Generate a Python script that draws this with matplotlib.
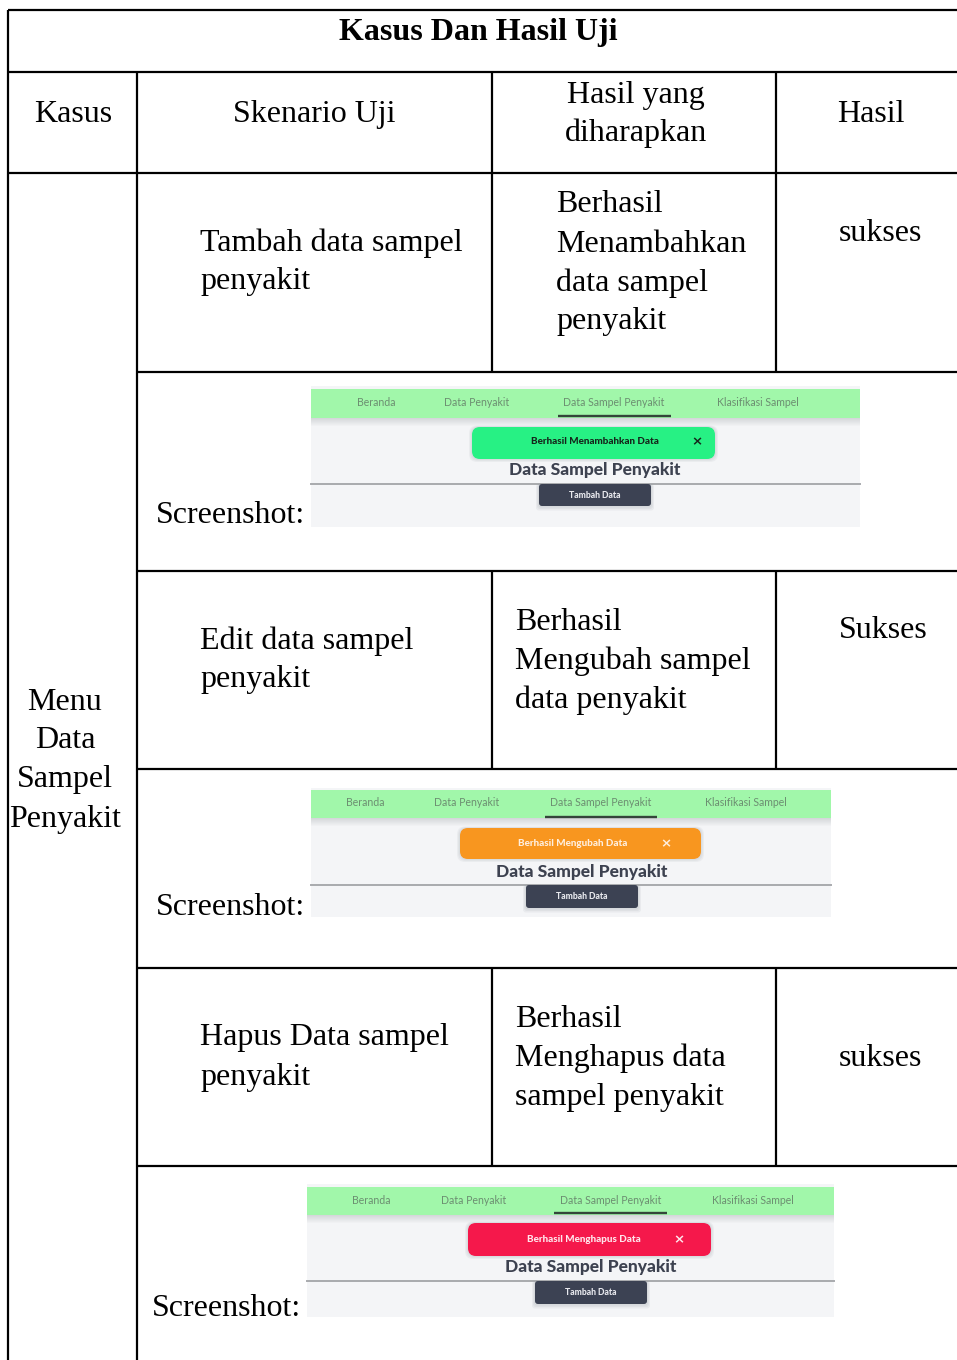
import matplotlib
matplotlib.use("Agg")
import matplotlib.pyplot as plt
from matplotlib.patches import Rectangle, FancyBboxPatch

# ---------------- content ----------------
title = "Kasus Dan Hasil Uji"
headers = ["Kasus", "Skenario Uji", "Hasil yang\ndiharapkan", "Hasil"]
case_label = "Menu\nData\nSampel\nPenyakit"
scenarios = ["Tambah data sampel\npenyakit",
             "Edit data sampel\npenyakit",
             "Hapus Data sampel\npenyakit"]
expected = ["Berhasil\nMenambahkan\ndata sampel\npenyakit",
            "Berhasil\nMengubah sampel\ndata penyakit",
            "Berhasil\nMenghapus data\nsampel penyakit"]
results = ["sukses", "Sukses", "sukses"]
screenshot_label = "Screenshot:"
nav_items = ["Beranda", "Data Penyakit", "Data Sampel Penyakit", "Klasifikasi Sampel"]
page_title = "Data Sampel Penyakit"
button_label = "Tambah Data"
toast_messages = ["Berhasil Menambahkan Data", "Berhasil Mengubah Data", "Berhasil Menghapus Data"]
toast_colors = ["#27f184", "#f8961f", "#f5184b"]
toast_text_colors = ["#15261b", "#ffeedd", "#ffe6ec"]

# ---------------- layout (pixels) ----------------
W, H = 957, 1360
XL, XC1, XC2, XC3, XR = 8, 137, 492, 776, 957
Y_TOP, Y_TITLE, Y_HEAD = 10, 72, 173
ROW_BOUNDS = [173, 372, 571, 769, 968, 1166, 1360]
LINE_H = 39
SERIF = "Liberation Serif"
FS = 23.0
BASE_OFF = 10   # baseline below visual centre

fig = plt.figure(figsize=(W / 100, H / 100), dpi=100)
ax = fig.add_axes([0, 0, 1, 1])
ax.set_xlim(0, W)
ax.set_ylim(H, 0)
ax.axis("off")

LW = 1.6
def hline(y, x0, x1):
    ax.plot([x0, x1], [y, y], color="black", lw=LW, solid_capstyle="butt")
def vline(x, y0, y1):
    ax.plot([x, x], [y0, y1], color="black", lw=LW, solid_capstyle="butt")

# grid
hline(Y_TOP, XL, XR)
hline(Y_TITLE, XL, XR)
hline(Y_HEAD, XL, XR)
for y in ROW_BOUNDS[1:-1]:
    hline(y, XC1, XR)
vline(XL, Y_TOP, H)
vline(XC1, Y_TITLE, H)
for x in (XC2, XC3):
    vline(x, Y_TITLE, Y_HEAD)
    for i in (0, 2, 4):
        vline(x, ROW_BOUNDS[i], ROW_BOUNDS[i + 1])

def block(text, x, yc, ha="left", bold=False, fs=FS):
    lines = text.split("\n")
    n = len(lines)
    for i, ln in enumerate(lines):
        y = yc + (i - (n - 1) / 2) * LINE_H + BASE_OFF
        ax.text(x, y, ln, ha=ha, va="baseline", fontsize=fs, family=SERIF,
                fontweight="bold" if bold else "normal", color="black")

# title and headers
block(title, 478, 30, ha="center", bold=True, fs=23.0)
header_x = [73, 314, 636, 871]
for hx, ht in zip(header_x, headers):
    block(ht, hx, 112, ha="center")
block(case_label, 65, 758, ha="center")

# data rows
scen_yc = [260, 658, 1055]
exp_x = [556, 515, 515]
exp_yc = [261, 659, 1056]
res_yc = [231, 628, 1056]
for i in range(3):
    block(scenarios[i], 200, scen_yc[i])
    block(expected[i], exp_x[i], exp_yc[i])
    block(results[i], 839, res_yc[i])

# screenshots
shots = [
    dict(box=(311, 386, 860, 527), bar=(389, 418), nav_x=[376, 477, 614, 758], nav_y=403,
         ul=(558, 671, 416), toast=(472, 427, 715, 459), tcx=594.5, xx=697, toast_y=442,
         tx=595, ty=470, rule=483.5, btn=(539, 484, 651, 506), lab=(156, 525)),
    dict(box=(311, 788, 831, 917), bar=(790, 818), nav_x=[365, 467, 601, 746], nav_y=803,
         ul=(545, 657, 817), toast=(460, 828, 701, 859), tcx=572.5, xx=666, toast_y=844,
         tx=582, ty=872, rule=885, btn=(526, 885, 638, 908), lab=(156, 917)),
    dict(box=(307, 1184, 834, 1317), bar=(1187, 1215), nav_x=[371, 474, 611, 753], nav_y=1200,
         ul=(554, 667, 1213), toast=(468, 1223, 711, 1256), tcx=583.5, xx=679, toast_y=1240,
         tx=591, ty=1267, rule=1280.5, btn=(535, 1281, 647, 1304), lab=(152, 1318)),
]
SANS = "Lato"
for k, s in enumerate(shots):
    x0, y0, x1, y1 = s["box"]
    ax.add_patch(Rectangle((x0, y0), x1 - x0, y1 - y0, color="#f4f5f7", lw=0, zorder=2))
    b0, b1 = s["bar"]
    # shadow under nav bar
    for j in range(8):
        ax.add_patch(Rectangle((x0, b1 + j), x1 - x0, 1, color="#b0b4b8",
                               alpha=0.45 * (1 - j / 8), lw=0, zorder=3))
    ax.add_patch(Rectangle((x0, b0), x1 - x0, b1 - b0, color="#a1f7aa", lw=0, zorder=4))
    for nx, nt in zip(s["nav_x"], nav_items):
        ax.text(nx, s["nav_y"], nt, ha="center", va="center", fontsize=7.6,
                family=SANS, color="#6c8e71", zorder=5)
    u0, u1, uy = s["ul"]
    ax.plot([u0, u1], [uy, uy], color="#34453a", lw=1.7, zorder=5, solid_capstyle="butt")
    # page title + rule
    ax.text(s["tx"], s["ty"], page_title, ha="center",
            va="center", fontsize=12.5, family=SANS, fontweight="black", color="#3d4250", zorder=5)
    ax.plot([x0, x1], [s["rule"], s["rule"]], color="#a8aaae", lw=1.4, zorder=5)
    # button
    bx0, by0, bx1, by1 = s["btn"]
    for j in range(4):
        ax.add_patch(FancyBboxPatch((bx0 - j, by0), bx1 - bx0 + 2 * j, by1 - by0 + 1.5 * j,
                                    boxstyle="round,pad=0,rounding_size=3",
                                    color="#9aa0a8", alpha=0.12, lw=0, zorder=5))
    ax.add_patch(FancyBboxPatch((bx0, by0), bx1 - bx0, by1 - by0,
                                boxstyle="round,pad=0,rounding_size=3",
                                color="#3c4253", lw=0, zorder=6))
    ax.text((bx0 + bx1) / 2, (by0 + by1) / 2, button_label, ha="center", va="center",
            fontsize=6.2, family=SANS, fontweight="black", color="#e8e9ee", zorder=7)
    # toast
    tx0, ty0, tx1, ty1 = s["toast"]
    for j in range(4):
        ax.add_patch(FancyBboxPatch((tx0 - j, ty0 - j / 2), tx1 - tx0 + 2 * j, ty1 - ty0 + 1.5 * j,
                                    boxstyle="round,pad=0,rounding_size=8",
                                    color="#9aa0a8", alpha=0.1, lw=0, zorder=7))
    ax.add_patch(FancyBboxPatch((tx0, ty0), tx1 - tx0, ty1 - ty0,
                                boxstyle="round,pad=0,rounding_size=8",
                                color=toast_colors[k], lw=0, zorder=8))
    ax.text(s["tcx"], s["toast_y"], toast_messages[k], ha="center", va="center", fontsize=7.1,
            family=SANS, fontweight="black", color=toast_text_colors[k], zorder=9)
    ax.text(s["xx"], s["toast_y"], "×", ha="center", va="center", fontsize=9.5,
            family="DejaVu Sans", fontweight="bold", color=toast_text_colors[k], zorder=9)
    # label
    lx, ly = s["lab"]
    ax.text(lx, ly - 2, screenshot_label, ha="left", va="baseline", fontsize=FS,
            family=SERIF, color="black", zorder=10)

fig.savefig("out.png", dpi=100, facecolor="white")
